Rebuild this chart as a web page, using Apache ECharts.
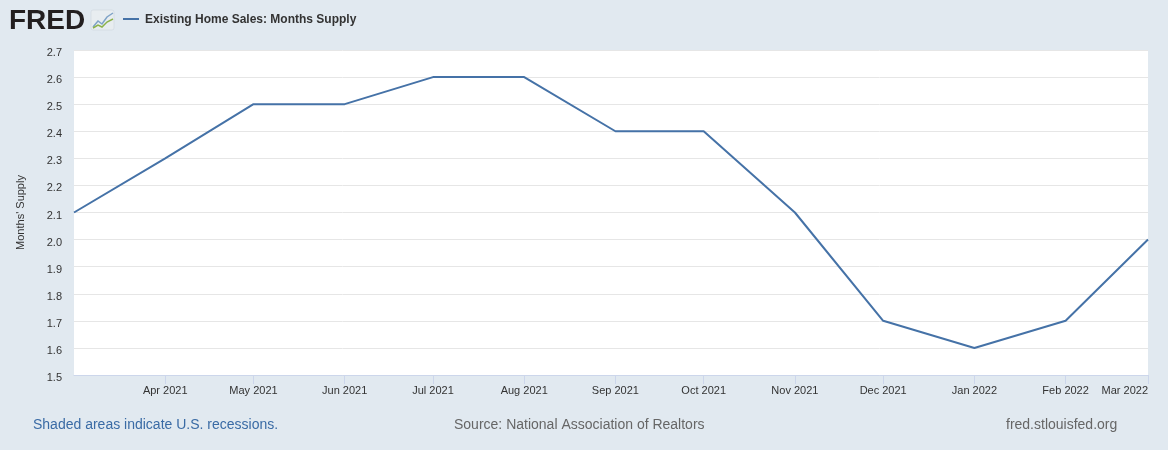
<!DOCTYPE html>
<html>
<head>
<meta charset="utf-8">
<script src="https://cdn.jsdelivr.net/npm/echarts@6/dist/echarts.min.js"></script>
<style>
html,body{margin:0;padding:0;background:#e1e9f0;}
#c{width:1168px;height:450px;}
</style>
</head>
<body>
<div id="c"></div>
<script>
const dates = ['2021-03-01','2021-04-01','2021-05-01','2021-06-01','2021-07-01','2021-08-01','2021-09-01','2021-10-01','2021-11-01','2021-12-01','2022-01-01','2022-02-01','2022-03-01'];
const monthsSupply = [2.1, 2.3, 2.5, 2.5, 2.6, 2.6, 2.4, 2.4, 2.1, 1.7, 1.6, 1.7, 2.0];
const xTickDates = ['2021-04-01','2021-05-01','2021-06-01','2021-07-01','2021-08-01','2021-09-01','2021-10-01','2021-11-01','2021-12-01','2022-01-01','2022-02-01','2022-03-01'];
const monthNames = ['Jan','Feb','Mar','Apr','May','Jun','Jul','Aug','Sep','Oct','Nov','Dec'];
const seriesName = 'Existing Home Sales: Months Supply';
const yAxisName = "Months' Supply";

const ts = d => { const p = d.split('-').map(Number); return Date.UTC(p[0], p[1]-1, p[2]); };
const seriesData = dates.map((d, i) => [ts(d), monthsSupply[i]]);
const tickVals = xTickDates.map(ts);

const chart = echarts.init(document.getElementById('c'), null, {renderer: 'canvas'});
const font = '"Liberation Sans", Arial, sans-serif';
chart.setOption({
  backgroundColor: '#e1e9f0',
  animation: false,
  grid: {left: 74, right: 20, top: 50, bottom: 75, show: true, backgroundColor: '#ffffff', borderWidth: 0},
  xAxis: {
    type: 'value',
    scale: true,
    min: ts(dates[0]),
    max: ts(dates[dates.length-1]),
    axisLine: {show: true, onZero: false, lineStyle: {color: '#ccd6eb', width: 1}},
    axisTick: {show: true, customValues: tickVals, length: 9, lineStyle: {color: '#ccd6eb'}},
    splitLine: {show: false},
    axisLabel: {
      customValues: tickVals,
      alignMaxLabel: 'right',
      color: '#333333', fontSize: 11, fontFamily: font, margin: 10,
      formatter: v => { const d = new Date(v); return monthNames[d.getUTCMonth()] + ' ' + d.getUTCFullYear(); }
    }
  },
  yAxis: {
    type: 'value',
    min: 1.5, max: 2.7, interval: 0.1,
    name: yAxisName,
    nameLocation: 'middle',
    nameGap: 48,
    nameRotate: 90,
    nameTextStyle: {color: '#333333', fontSize: 11, fontFamily: font},
    axisLine: {show: false},
    axisTick: {show: false},
    splitLine: {show: true, lineStyle: {color: '#e6e6e6', width: 1}},
    axisLabel: {color: '#333333', fontSize: 11, fontFamily: font, margin: 12, verticalAlign: 'top', lineHeight: 6, formatter: v => v.toFixed(1)}
  },
  series: [{
    name: seriesName,
    type: 'line',
    data: seriesData,
    showSymbol: false,
    symbol: 'none',
    lineStyle: {color: '#4572a7', width: 2},
    itemStyle: {color: '#4572a7'}
  }],
  graphic: [
    {type: 'text', left: 9, top: 7, style: {text: 'FRED', font: '900 28px "Liberation Sans", Arial, sans-serif', fill: '#231f20'}},
    {type: 'rect', shape: {x: 91, y: 10, width: 23, height: 20, r: 2}, style: {fill: '#e8edf0', stroke: '#c9d3da', lineWidth: 0.5}},
    {type: 'polyline', shape: {points: [[93,27],[98,21],[102,24],[107,17],[113,13]]}, style: {stroke: '#7fa3c7', lineWidth: 1.5, fill: null}},
    {type: 'polyline', shape: {points: [[93,28],[98,25],[102,27],[107,22],[113,19]]}, style: {stroke: '#8cb24a', lineWidth: 1.5, fill: null}},
    {type: 'line', shape: {x1: 123, y1: 19, x2: 139, y2: 19}, style: {stroke: '#4572a7', lineWidth: 2}},
    {type: 'text', left: 145, top: 14, style: {text: seriesName, font: 'bold 12px "Liberation Sans", Arial, sans-serif', fill: '#333333'}},
    {type: 'text', left: 33, top: 418, style: {text: 'Shaded areas indicate U.S. recessions.', font: '14px "Liberation Sans", Arial, sans-serif', fill: '#3a6ba5'}},
    {type: 'text', left: 454, top: 418, style: {text: 'Source: National Association of Realtors', font: '14px "Liberation Sans", Arial, sans-serif', fill: '#666666'}},
    {type: 'text', left: 1006, top: 418, style: {text: 'fred.stlouisfed.org', font: '14px "Liberation Sans", Arial, sans-serif', fill: '#666666'}}
  ]
});
</script>
</body>
</html>
